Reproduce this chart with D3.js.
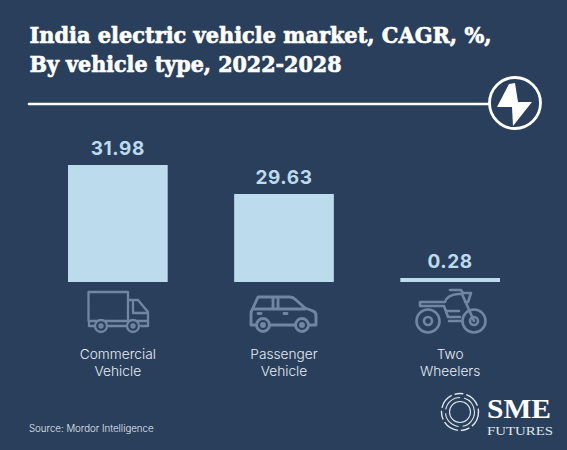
<!DOCTYPE html>
<html><head><meta charset="utf-8">
<script src="https://cdn.jsdelivr.net/npm/d3@7/dist/d3.min.js"></script>
<style>html,body{margin:0;padding:0;background:#2a3f5c}svg{display:block}</style>
</head><body><div id="c"></div>
<script>
const titleLines = ["India electric vehicle market, CAGR, %,", "By vehicle type, 2022-2028"];
const categories = ["Commercial Vehicle", "Passenger Vehicle", "Two Wheelers"];
const categoryLines = [["Commercial","Vehicle"],["Passenger","Vehicle"],["Two","Wheelers"]];
const values = [31.98, 29.63, 0.28];
const valueLabels = ["31.98", "29.63", "0.28"];
const sourceText = "Source: Mordor Intelligence";

const W = 567, H = 450, bg = "#2a3f5c", barCol = "#bcdcee", iconCol = "#6f87a3";
const svg = d3.select("#c").append("svg").attr("width", W).attr("height", H);
svg.append("rect").attr("width", W).attr("height", H).attr("fill", bg);

// Title
svg.append("g").selectAll("text").data(titleLines).join("text")
  .attr("x", 29.5).attr("y", (d,i) => 42.5 + i*29)
  .attr("font-family", "'DejaVu Serif'").attr("font-weight", 700)
  .attr("font-size", 22.5).attr("fill", "#fff").attr("stroke", "#fff").attr("stroke-width", 0.7)
  .attr("textLength", (d,i) => i ? 312 : 462).attr("lengthAdjust", "spacingAndGlyphs")
  .text(d => d);

// Rule + bolt badge
svg.append("line").attr("x1", 29).attr("x2", 489).attr("y1", 104).attr("y2", 104)
  .attr("stroke", "#fff").attr("stroke-width", 2.6).attr("stroke-linecap", "round");
const badge = svg.append("g").attr("transform", "translate(515,103)");
badge.append("circle").attr("r", 25.5).attr("fill", "none").attr("stroke", "#fff").attr("stroke-width", 2.8);
badge.append("path").attr("fill", "#fff")
  .attr("d", "M-6,-19 L0,-20 L3,-1 L17,-1 L-2,23 L-3,4 L-18,4 Z");

// Scales (the reference bars are drawn to a non-proportional scale)
const x = d3.scaleBand().domain(categories).range([68, 500]).paddingInner(0.4).paddingOuter(0).align(0);
const y = d3.scaleLinear().domain([0, 0.28, 29.63, 31.98]).range([282, 278, 194, 165]);

svg.append("g").selectAll("rect").data(values).join("rect")
  .attr("x", (d,i) => x(categories[i])).attr("width", x.bandwidth())
  .attr("y", d => y(d)).attr("height", d => y(0) - y(d)).attr("fill", barCol);

svg.append("g").selectAll("text").data(values).join("text")
  .attr("x", (d,i) => x(categories[i]) + x.bandwidth()/2).attr("y", d => y(d) - 10)
  .attr("text-anchor", "middle").attr("font-family", "Inter").attr("font-weight", 700)
  .attr("font-size", 19).attr("letter-spacing", 0.6).attr("fill", barCol)
  .text((d,i) => valueLabels[i]);

// Category labels
const lab = svg.append("g").selectAll("g").data(categoryLines).join("g")
  .attr("transform", (d,i) => `translate(${x(categories[i]) + x.bandwidth()/2},0)`);
lab.selectAll("text").data(d => d).join("text")
  .attr("y", (d,i) => 358.5 + i*17.3).attr("text-anchor", "middle")
  .attr("font-family", "Inter").attr("font-weight", 300).attr("font-size", 13.7)
  .attr("fill", "#e6edf3").text(d => d);

// Icons
const ic = svg.append("g").attr("fill", "none").attr("stroke", iconCol).attr("stroke-width", 2.3)
  .attr("stroke-linejoin", "round").attr("stroke-linecap", "round");
// truck
const truck = ic.append("g");
truck.append("path").attr("d", "M88.5,321 V292 H128 V321 M128,300 H138 L148,312 V326 H141 M133,300 V313 H147.5 M88.5,321 H148 M89,321 V326 H94 M108,326 H126");
[[101,326],[133,326]].forEach(c => {
  truck.append("circle").attr("cx",c[0]).attr("cy",c[1]).attr("r",6).attr("fill",bg);
  truck.append("circle").attr("cx",c[0]).attr("cy",c[1]).attr("r",1.5);
});
// car
const car = ic.append("g").attr("stroke-width", 2.9);
car.append("path").attr("d", "M251,325 V314 Q251,311 253,308 L258,297 H290 Q293,297 296,300 L305,308 L313,311 Q316,312 316,316 V325 H309 M251,325 H256 M270,325 H295 M253,309 H305 M273,297 V309 M278,297 V309");
car.append("path").attr("d", "M258,313.5 H261 M284,313.5 H287");
[[263,325],[302,325]].forEach(c => {
  car.append("circle").attr("cx",c[0]).attr("cy",c[1]).attr("r",6.5).attr("fill",bg);
  car.append("circle").attr("cx",c[0]).attr("cy",c[1]).attr("r",1.5);
});
// motorcycle
const bike = ic.append("g").attr("stroke-width", 2.6);
[[428,321],[474,321]].forEach(c => {
  bike.append("circle").attr("cx",c[0]).attr("cy",c[1]).attr("r",11.5);
  bike.append("circle").attr("cx",c[0]).attr("cy",c[1]).attr("r",4);
});
bike.append("path").attr("d", "M420,302 H445 Q447,295 458,294 H462 L474,321 M450,290 H461 L463,293 M463,293 H471 L468,302 H465 M420,302 V306 H444 L448,317 H460 M447,311 H459 M449,321 H461");

// Source
svg.append("text").attr("x", 29).attr("y", 432).attr("font-family", "Inter").attr("font-weight", 300)
  .attr("font-size", 9.7).attr("fill", "#e6edf3").text(sourceText);

// Logo
const logo = svg.append("g").attr("fill", "none").attr("stroke", "#dfe7ee");
[18.5, 14.5, 10.5].forEach((r,i) => logo.append("circle").attr("cx",460).attr("cy",412).attr("r",r)
  .attr("stroke-width", i===0 ? 1.4 : 1.1).attr("stroke-dasharray", i===0 ? "16 3 9 3" : i===1 ? "20 4" : null));
svg.append("text").attr("x", 487).attr("y", 417.5).attr("font-family","'Liberation Serif'").attr("font-weight",700)
  .attr("font-size", 28).attr("fill","#fff").attr("textLength",64).attr("lengthAdjust","spacingAndGlyphs").text("SME");
svg.append("text").attr("x", 487).attr("y", 435).attr("font-family","'Liberation Serif'")
  .attr("font-size", 13.3).attr("fill","#dfe7ee").attr("textLength",66).attr("lengthAdjust","spacingAndGlyphs").text("FUTURES");
</script></body></html>
